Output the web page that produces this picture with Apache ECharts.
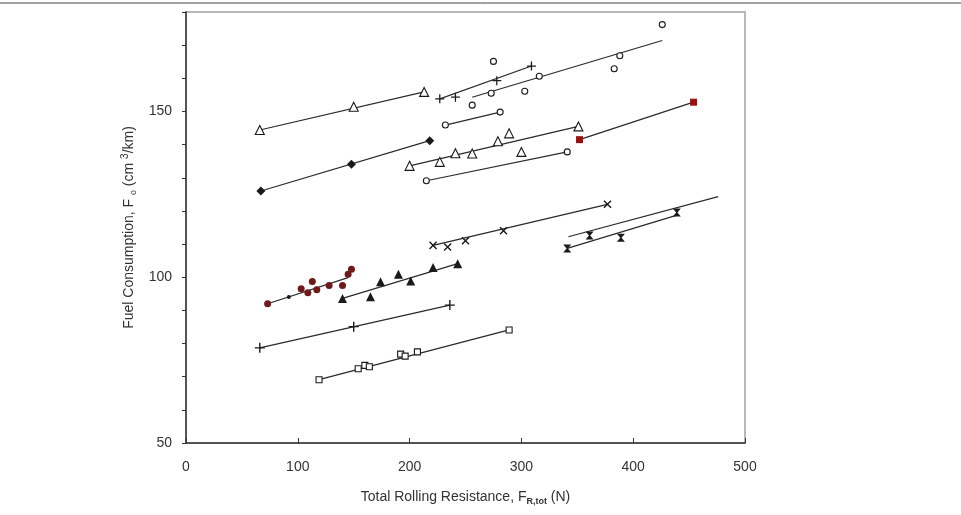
<!DOCTYPE html>
<html><head><meta charset="utf-8">
<script src="https://cdn.jsdelivr.net/npm/echarts@6/dist/echarts.min.js"></script>
<style>html,body{margin:0;padding:0;background:#fff}#c{width:961px;height:515px}</style>
</head><body><div id="c"></div>
<script>
// ---- data ----
const xTicks = [0, 100, 200, 300, 400, 500];
const yTickLabels = [50, 100, 150];

const triOpenTop = [[66,144.4],[150,151.4],[213,155.9]];
const triOpenTopFit = [[66,144.4],[213,155.9]];
const diamonds = [[67,126.0],[148,134.1],[218,141.2]];
const diamondsFit = [[67,126.0],[218,141.2]];
const plusTop = [[227,153.8],[241,154.3],[278,159.3],[309,163.7]];
const plusTopFit = [[227,153.8],[309,163.7]];
const circTop = [[275,165.1],[273,155.5],[256,151.9],[303,156.1],[316,160.6],[388,166.8],[383,162.9],[426,176.2]];
const circTopFit = [[256,154.3],[426,171.4]];
const circMid = [[232,145.9],[281,149.8]];
const circMidFit = [[232,145.9],[281,149.8]];
const triOpenMid = [[200,133.6],[227,134.8],[241,137.4],[256,137.3],[279,141.0],[289,143.4],[300,137.8],[351,145.5]];
const triOpenMidFit = [[200,133.6],[351,145.5]];
const circLow = [[215,129.1],[341,137.8]];
const circLowFit = [[215,129.1],[341,137.8]];
const redSquares = [[352,141.5],[454,152.8]];
const redSquaresFit = [[352,141.5],[454,152.8]];
const redCircles = [[73,92.0],[103,96.5],[109,95.3],[113,98.7],[117,96.2],[128,97.5],[140,97.5],[145,100.9],[148,102.4]];
const redCirclesFit = [[73,92.0],[145,99.9]];
const smallDots = [[92,94.0]];
const triFilled = [[140,93.6],[165,94.1],[174,98.6],[190,100.9],[201,98.9],[221,102.9],[243,104.1]];
const triFilledFit = [[140,93.6],[243,104.1]];
const plusLow = [[66,78.7],[150,85.1],[236,91.6]];
const plusLowFit = [[66,78.7],[236,91.6]];
const sqOpen = [[119,69.1],[154,72.4],[160,73.4],[164,73.0],[192,76.8],[196,76.2],[207,77.5],[289,84.1]];
const sqOpenFit = [[119,69.1],[289,84.1]];
const crosses = [[221,109.6],[234,109.1],[250,111.0],[284,114.0],[377,122.0]];
const crossesFit = [[221,109.6],[377,122.0]];
const hourglass = [[341,108.7],[361,112.6],[389,111.9],[439,119.5]];
const hourglassFitLow = [[341,108.7],[440,118.8]];
const hourglassFitHigh = [[342,112.2],[476,124.3]];

// ---- styling ----
const INK = '#1a1a1a';
const PLUS = 'path://M4.3,0H5.7V10H4.3Z M0,4.3H10V5.7H0Z';
const HOUR = 'path://M0,0H10L5.8,5L10,10H0L4.2,5Z';

function fit(data){
  return {type:'line', data:data, symbol:'none', silent:true, z:2,
    lineStyle:{color:'#2a2a2a', width:1.2}};
}
function pts(data, symbol, size, fill, stroke, extra){
  return Object.assign({type:'scatter', data:data, symbol:symbol, symbolSize:size, z:3,
    itemStyle:{color:fill, opacity:1, borderColor:stroke||fill, borderWidth: stroke?1.1:0}}, extra||{});
}

const chart = echarts.init(document.getElementById('c'));
chart.setOption({
  animation:false,
  backgroundColor:'#fff',
  textStyle:{fontFamily:'Liberation Sans, Arial, sans-serif'},
  graphic:[{type:'line', shape:{x1:0,y1:3,x2:961,y2:3}, style:{stroke:'#444', lineWidth:1}}],
  grid:{left:186, top:12, right:216, bottom:72, show:true, borderColor:'#b8b8b8', borderWidth:2},
  xAxis:{type:'value', min:0, max:500, interval:100,
    axisLine:{lineStyle:{color:'#333', width:1.5}},
    axisTick:{inside:true, length:5, lineStyle:{color:'#333'}},
    splitLine:{show:false},
    axisLabel:{color:'#333', fontSize:14, margin:17,
      formatter:v=> xTicks.indexOf(v)>=0 ? String(v) : ''},
    name:'Total Rolling Resistance, F{sub|R,tot} (N)', nameLocation:'middle', nameGap:46,
    nameTextStyle:{color:'#333', fontSize:14, rich:{sub:{fontSize:9, fontWeight:'bold', verticalAlign:'bottom', padding:[8,0,0,0], color:'#333'}}}
  },
  yAxis:{type:'value', min:50, max:180, interval:10,
    axisLine:{show:true, lineStyle:{color:'#333', width:1.5}},
    axisTick:{show:true, length:4, lineStyle:{color:'#333'}},
    splitLine:{show:false},
    axisLabel:{color:'#333', fontSize:14, margin:14,
      formatter:v=> yTickLabels.indexOf(v)>=0 ? String(v) : ''},
    name:'Fuel Consumption, F {sub|o} (cm {sup|3}/km)', nameLocation:'middle', nameGap:45,
    nameTextStyle:{color:'#333', fontSize:14, rich:{
      sub:{fontSize:9, verticalAlign:'bottom', padding:[8,0,0,0], color:'#333'},
      sup:{fontSize:10, verticalAlign:'top', padding:[0,0,6,0], color:'#333'}}}
  },
  series:[
    fit(triOpenTopFit), pts(triOpenTop,'triangle',9,'#fff',INK),
    fit(diamondsFit), pts(diamonds,'diamond',9,INK),
    fit(plusTopFit), pts(plusTop,PLUS,9,INK),
    fit(circTopFit), pts(circTop,'circle',6,'#fff',INK),
    fit(circMidFit), pts(circMid,'circle',6,'#fff',INK),
    fit(triOpenMidFit), pts(triOpenMid,'triangle',9,'#fff',INK),
    fit(circLowFit), pts(circLow,'circle',6,'#fff',INK),
    fit(redSquaresFit), pts(redSquares,'rect',7,'#9a1010'),
    fit(redCirclesFit), pts(redCircles,'circle',7,'#6e1a1a'), pts(smallDots,'circle',4,INK),
    fit(triFilledFit), pts(triFilled,'triangle',9,INK),
    fit(plusLowFit), pts(plusLow,PLUS,10,INK),
    fit(sqOpenFit), pts(sqOpen,'rect',6,'#fff',INK),
    fit(crossesFit), pts(crosses,PLUS,10,INK,null,{symbolRotate:45}),
    fit(hourglassFitLow), fit(hourglassFitHigh), pts(hourglass,HOUR,8,INK)
  ]
});
</script></body></html>
